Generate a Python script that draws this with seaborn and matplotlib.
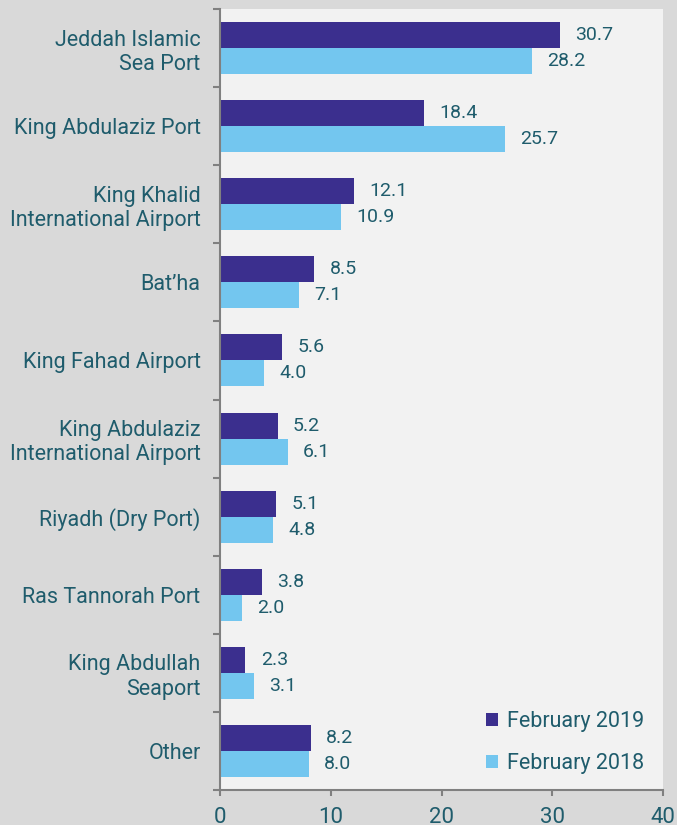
import matplotlib
matplotlib.use("Agg")
import matplotlib.pyplot as plt
import seaborn as sns
import pandas as pd
import numpy as np

categories = ["Jeddah Islamic\nSea Port", "King Abdulaziz Port", "King Khalid\nInternational Airport",
              "Bat\u2019ha", "King Fahad Airport", "King Abdulaziz\nInternational Airport",
              "Riyadh (Dry Port)", "Ras Tannorah Port", "King Abdullah\nSeaport", "Other"]
feb2019 = [30.7, 18.4, 12.1, 8.5, 5.6, 5.2, 5.1, 3.8, 2.3, 8.2]
feb2018 = [28.2, 25.7, 10.9, 7.1, 4.0, 6.1, 4.8, 2.0, 3.1, 8.0]
series = ["February 2019", "February 2018"]
xticks = [0, 10, 20, 30, 40]

df = pd.DataFrame({
    "cat": categories * 2,
    "val": feb2019 + feb2018,
    "series": [series[0]] * len(categories) + [series[1]] * len(categories),
})

sns.set_style("white")
plt.rcParams['font.family'] = ['Roboto', 'DejaVu Sans']
txt = "#1f5c6c"
dark = "#3b2f8e"
light = "#73c6ef"

fig = plt.figure(figsize=(6.77, 8.25), dpi=100, facecolor="#d9d9d9")
ax = fig.add_axes([220/677, 1-790/825, (663-220)/677, (790-9)/825])
ax.set_facecolor("#f2f2f2")

sns.barplot(data=df, y="cat", x="val", hue="series", hue_order=series,
            palette=[dark, light], orient="h", width=0.667, ax=ax,
            order=categories, errorbar=None, saturation=1, linewidth=0)

for cont in ax.containers:
    ax.bar_label(cont, fmt="%.1f", padding=11, color=txt, fontsize=14)

ax.set_xlim(0, 40)
ax.set_xticks(xticks)
ax.set_xticklabels([str(t) for t in xticks], fontsize=16, color=txt)
ax.set_ylim(9.5, -0.5)
ax.set_xlabel("")
ax.set_ylabel("")
ax.tick_params(axis="y", which="major", left=False, length=0, labelsize=15.5, labelcolor=txt, pad=14)
ax.set_yticks(np.arange(-0.5, 10, 1), minor=True)
ax.tick_params(axis="y", which="minor", left=True, length=5, width=1.5, color="#808080", direction="out")
ax.tick_params(axis="x", which="major", bottom=True, length=4.5, width=1.5, color="#808080", direction="out", pad=8)
for lab in ax.get_yticklabels():
    lab.set_horizontalalignment("right")
    lab.set_multialignment("right")
for s in ["top", "right"]:
    ax.spines[s].set_visible(False)
for s in ["left", "bottom"]:
    ax.spines[s].set_color("#808080")
    ax.spines[s].set_linewidth(1.5)

leg = ax.legend(loc="lower right", bbox_to_anchor=(1.0, -0.004), frameon=False, fontsize=15.5,
                handlelength=0.55, handleheight=0.55, labelspacing=0.95, handletextpad=0.4)
for t in leg.get_texts():
    t.set_color(txt)

fig.savefig("out.png", dpi=100, facecolor=fig.get_facecolor())
